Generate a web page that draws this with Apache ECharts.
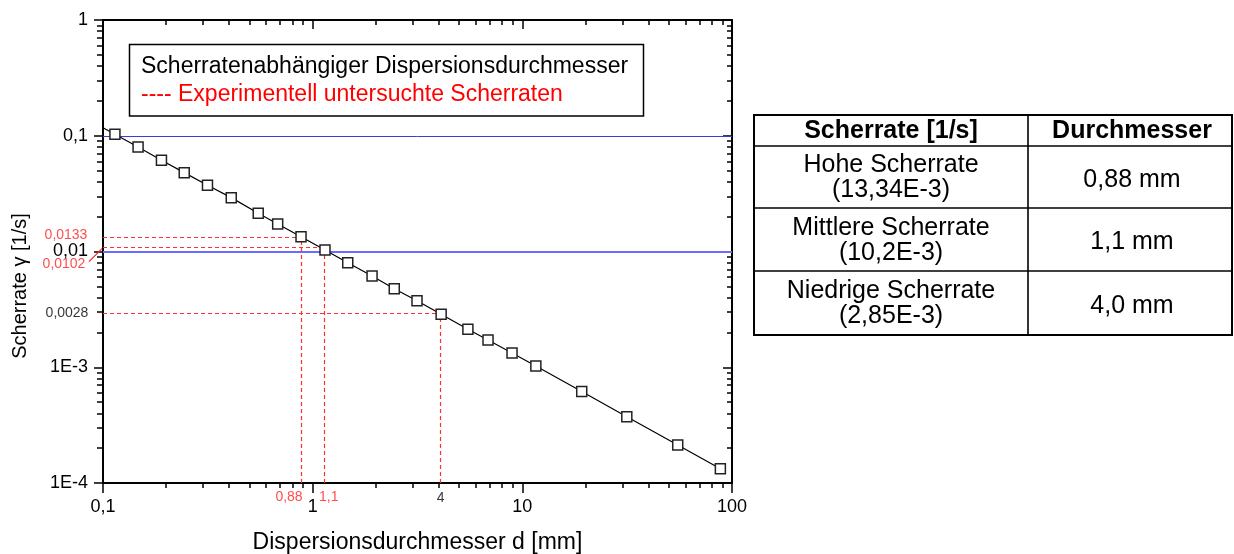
<!DOCTYPE html>
<html><head><meta charset="utf-8">
<script src="https://cdn.jsdelivr.net/npm/echarts@6/dist/echarts.min.js"></script>
<style>html,body{margin:0;padding:0;background:#fff}#c{width:1234px;height:554px}</style>
</head><body><div id="c"></div>
<script>
// ---------- data ----------
const xMajorValues = [0.1, 1, 10, 100];
const xMajorLabels = ['0,1', '1', '10', '100'];
const yMajorValues = [1e-4, 1e-3, 0.01, 0.1, 1];
const yMajorLabels = ['1E-4', '1E-3', '0,01', '0,1', '1'];

// markers (diameter d [mm], shear rate [1/s])
const markerDiameter = [0.114, 0.147, 0.19, 0.244, 0.315, 0.409, 0.55, 0.681, 0.88, 1.145, 1.47, 1.92, 2.45, 3.145, 4.1, 5.5, 6.86, 8.93, 11.6, 19.2, 31.5, 55.1, 88];
const markerRate     = [0.1029, 0.0799, 0.0614, 0.048, 0.0373, 0.0292, 0.0214, 0.0173, 0.0134, 0.0103, 0.008, 0.00614, 0.00477, 0.00376, 0.00287, 0.00213, 0.00172, 0.00133, 0.001025, 0.000617, 0.000374, 0.000213, 0.000133];
// curve start at the left axis (no marker)
const curveStartDiameter = [0.1];
const curveStartRate = [0.1174];

const gridRates = [0.1, 0.01, 0.001];

// experimentally investigated shear rates
const expDiameter = [0.88, 1.13, 4.08];
const expRate = [0.0133, 0.0108, 0.00295];
const expDiameterLabels = ['0,88', '1,1', '4'];
const expRateLabels = ['0,0133', '0,0102', '0,0028'];

const legendTexts = ['Scherratenabhängiger Dispersionsdurchmesser', '---- Experimentell untersuchte Scherraten'];
const xTitle = 'Dispersionsdurchmesser d [mm]';
const yTitle = 'Scherrate γ [1/s]';

const tableHeader = ['Scherrate [1/s]', 'Durchmesser'];
const tableRateNames = ['Hohe Scherrate', 'Mittlere Scherrate', 'Niedrige Scherrate'];
const tableRateValues = ['(13,34E-3)', '(10,2E-3)', '(2,85E-3)'];
const tableDiameters = ['0,88 mm', '1,1 mm', '4,0 mm'];

// ---------- build ----------
const FONT = '"Liberation Sans", Arial, sans-serif';
function minorTicks(lo, hi) {
  const out = [];
  for (let d = lo; d < hi * 0.999; d *= 10) for (let k = 2; k <= 9; k++) out.push(+(k * d).toPrecision(4));
  return out;
}
function labeler(vals, labels) {
  return v => { const i = vals.findIndex(t => Math.abs(Math.log10(t) - Math.log10(v)) < 1e-6); return i < 0 ? '' : labels[i]; };
}
const xMinor = minorTicks(0.1, 100);
const yMinor = minorTicks(1e-4, 1);

function mkAxis(kind, position, major, inside, showLine, ticks, len, labels) {
  const a = {
    type: 'log', logBase: 10,
    min: kind === 'x' ? 0.1 : 1e-4, max: kind === 'x' ? 100 : 1,
    position: position,
    axisLine: { show: showLine, onZero: false, lineStyle: { color: '#000', width: 2 } },
    axisTick: { show: true, inside: inside, length: len, customValues: ticks, lineStyle: { color: '#000', width: 1.5 } },
    axisLabel: { show: false },
    splitLine: { show: false }, minorTick: { show: false }, minorSplitLine: { show: false },
    axisPointer: { show: false }
  };
  if (labels) {
    a.axisLabel = { show: true, customValues: major, formatter: labels, fontSize: 18, color: '#000', fontFamily: FONT, margin: 15 };
  }
  return a;
}

const xAxes = [
  mkAxis('x', 'bottom', xMajorValues, false, true, xMajorValues, 10, labeler(xMajorValues, xMajorLabels)),
  mkAxis('x', 'bottom', null, false, false, xMinor, 5, null),
  mkAxis('x', 'top', null, true, true, xMajorValues, 9, null),
  mkAxis('x', 'top', null, true, false, xMinor, 5, null)
];
const yAxes = [
  mkAxis('y', 'left', yMajorValues, false, true, yMajorValues, 9, labeler(yMajorValues, yMajorLabels)),
  mkAxis('y', 'left', null, false, false, yMinor, 6, null),
  mkAxis('y', 'right', null, true, true, yMajorValues, 9, null),
  mkAxis('y', 'right', null, true, false, yMinor, 5, null)
];

const curveData = curveStartDiameter.map((d, i) => [d, curveStartRate[i]])
  .concat(markerDiameter.map((d, i) => [d, markerRate[i]]));
const markerData = markerDiameter.map((d, i) => [d, markerRate[i]]);

const blueStyles = [
  { color: '#3a3ae0', width: 1 },
  { color: '#6b6bff', width: 2 },
  { color: '#1c1ca8', width: 1.2 }
];
const redStyle = { color: '#ff3030', width: 1.2, type: [4, 3], opacity: 1 };
const markLineData = gridRates.map((r, i) => ({ yAxis: r, lineStyle: Object.assign({ type: 'solid', opacity: 1 }, blueStyles[i]) }));
expDiameter.forEach((d, i) => {
  markLineData.push([{ coord: [0.1, expRate[i]], lineStyle: redStyle }, { coord: [d, expRate[i]], lineStyle: redStyle }]);
  markLineData.push([{ coord: [d, 1e-4], lineStyle: redStyle }, { coord: [d, expRate[i]], lineStyle: redStyle }]);
});

const xLabOffsets = [[-12, 14], [5, 14], [0, 15]];
const xLabColors = ['#ff2020', '#ff2020', '#000'];
const yLabOffsets = [[-37, -2], [-39, 17], [-36, 0]];
const yLabColors = ['#ff2020', '#ff2020', '#000'];
const annData = [];
expDiameter.forEach((d, i) => annData.push({
  value: [d, 1e-4],
  label: { show: true, position: 'inside', formatter: expDiameterLabels[i], color: xLabColors[i], fontSize: 14, fontFamily: FONT, offset: xLabOffsets[i] }
}));
expRate.forEach((r, i) => annData.push({
  value: [0.1, r],
  label: { show: true, position: 'inside', formatter: expRateLabels[i], color: yLabColors[i], fontSize: 14, fontFamily: FONT, offset: yLabOffsets[i] }
}));

// table graphic
const T = { x0: 754, x1: 1028, x2: 1232, rows: [115, 146, 208, 271, 335] };
const tableEls = [];
tableEls.push({ type: 'rect', shape: { x: T.x0, y: T.rows[0], width: T.x2 - T.x0, height: T.rows[4] - T.rows[0] }, style: { fill: '#fff', stroke: '#000', lineWidth: 2 } });
for (let r = 1; r < 4; r++) tableEls.push({ type: 'line', shape: { x1: T.x0, y1: T.rows[r], x2: T.x2, y2: T.rows[r] }, style: { stroke: '#000', lineWidth: 1.6 } });
tableEls.push({ type: 'line', shape: { x1: T.x1, y1: T.rows[0], x2: T.x1, y2: T.rows[4] }, style: { stroke: '#000', lineWidth: 1.6 } });
const c1 = (T.x0 + T.x1) / 2, c2 = (T.x1 + T.x2) / 2 + 2;
const hy = (T.rows[0] + T.rows[1]) / 2 + 1;
tableEls.push({ type: 'text', x: c1, y: hy, style: { text: tableHeader[0], font: 'bold 25px ' + FONT, fill: '#000', align: 'center', verticalAlign: 'middle' } });
tableEls.push({ type: 'text', x: c2, y: hy, style: { text: tableHeader[1], font: 'bold 25px ' + FONT, fill: '#000', align: 'center', verticalAlign: 'middle' } });
for (let i = 0; i < 3; i++) {
  const cy = (T.rows[i + 1] + T.rows[i + 2]) / 2 + 1;
  tableEls.push({ type: 'text', x: c1, y: cy, style: { text: tableRateNames[i] + '\n' + tableRateValues[i], font: '25px ' + FONT, lineHeight: 25, fill: '#000', align: 'center', verticalAlign: 'middle' } });
  tableEls.push({ type: 'text', x: c2, y: cy + 2, style: { text: tableDiameters[i], font: '25px ' + FONT, fill: '#000', align: 'center', verticalAlign: 'middle' } });
}

const chart = echarts.init(document.getElementById('c'), null, { renderer: 'canvas' });
chart.setOption({
  animation: false,
  backgroundColor: '#fff',
  grid: { left: 103, top: 20, width: 629, height: 463, containLabel: false },
  xAxis: xAxes,
  yAxis: yAxes,
  series: [
    {
      type: 'line', xAxisIndex: 0, yAxisIndex: 0, data: curveData, symbol: 'none', showSymbol: false,
      lineStyle: { color: '#000', width: 1.2 }, silent: true, z: 3
    },
    {
      type: 'line', xAxisIndex: 0, yAxisIndex: 0, data: [], symbol: 'none', silent: true, z: 4,
      itemStyle: { color: '#ff3030' },
      markLine: { silent: true, symbol: ['none', 'none'], label: { show: false }, animation: false,
        lineStyle: redStyle, emphasis: { disabled: true }, data: markLineData }
    },
    {
      type: 'scatter', xAxisIndex: 0, yAxisIndex: 0, data: markerData, symbol: 'rect', symbolSize: 10,
      itemStyle: { color: '#fff', borderColor: '#222', borderWidth: 1.5, opacity: 1 }, silent: true, z: 10
    },
    {
      type: 'scatter', xAxisIndex: 0, yAxisIndex: 0, data: annData, symbolSize: 1,
      itemStyle: { color: 'rgba(0,0,0,0)' }, silent: true, z: 11
    },
    {
      type: 'custom', xAxisIndex: 0, yAxisIndex: 0, data: [[0.1, expRate[1]]], silent: true, z: 11,
      renderItem: (params, api) => {
        const p = api.coord([api.value(0), api.value(1)]);
        return { type: 'line', shape: { x1: p[0] - 14, y1: p[1] + 14, x2: p[0] - 1, y2: p[1] + 1 }, style: { stroke: '#ff2020', lineWidth: 1.2 } };
      }
    }
  ],
  graphic: [
    { type: 'rect', shape: { x: 129.5, y: 44.5, width: 514, height: 71.5 }, style: { fill: '#fff', stroke: '#000', lineWidth: 1.5 }, z: 100 },
    { type: 'text', x: 141, y: 67, z: 101, style: { text: legendTexts[0], font: '23px ' + FONT, fill: '#000', align: 'left', verticalAlign: 'middle' } },
    { type: 'text', x: 141, y: 94.5, z: 101, style: { text: legendTexts[1], font: '23px ' + FONT, fill: '#ff0000', align: 'left', verticalAlign: 'middle' } },
    { type: 'text', x: 417.5, y: 543, style: { text: xTitle, font: '23px ' + FONT, fill: '#000', align: 'center', verticalAlign: 'middle' } },
    { type: 'text', x: 20, y: 286, rotation: Math.PI / 2, style: { text: yTitle, font: '20px ' + FONT, fill: '#000', align: 'center', verticalAlign: 'middle' } },
    { type: 'group', children: tableEls }
  ]
});
</script>
</body></html>
